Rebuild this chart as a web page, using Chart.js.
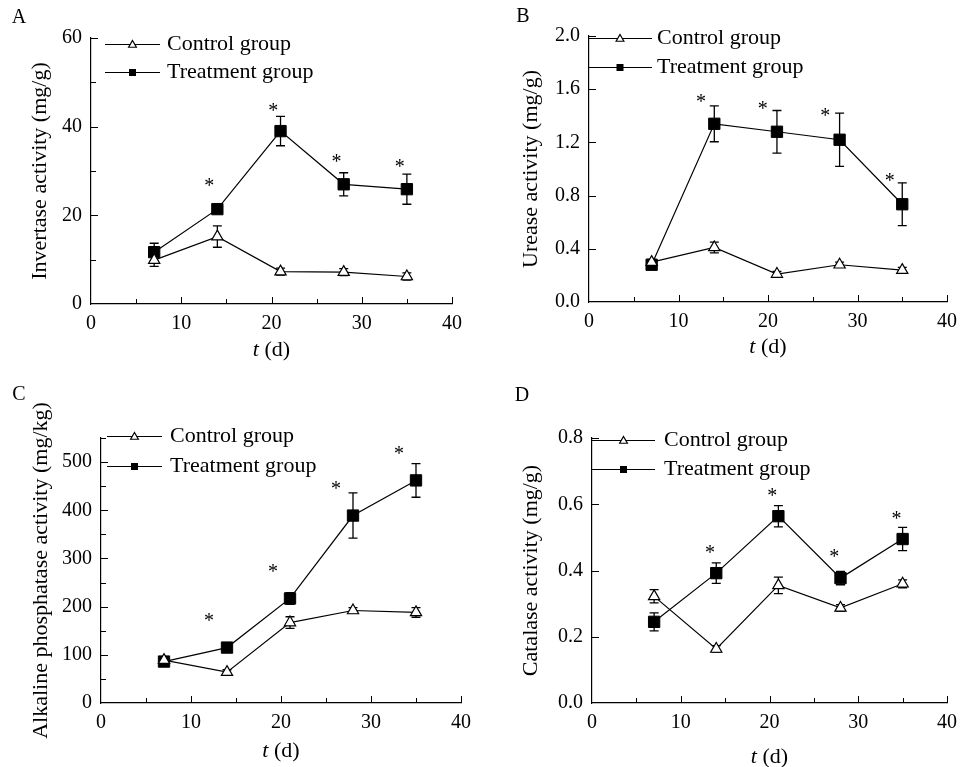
<!DOCTYPE html>
<html>
<head>
<meta charset="utf-8">
<script src="https://cdn.jsdelivr.net/npm/chart.js@4.4.0/dist/chart.umd.min.js"></script>
<style>
html, body { margin: 0; padding: 0; background: #fff; }
#wrap { position: relative; width: 965px; height: 767px; background: #fff; }
canvas { position: absolute; }
</style>
</head>
<body>
<div id="wrap">
  <canvas id="cA" width="480" height="380" style="left:0px;top:0px"></canvas>
  <canvas id="cB" width="485" height="380" style="left:480px;top:0px"></canvas>
  <canvas id="cC" width="480" height="387" style="left:0px;top:380px"></canvas>
  <canvas id="cD" width="485" height="387" style="left:480px;top:380px"></canvas>
</div>
<script>
// ---------- data ----------
const days = [7, 14, 21, 28, 35];
const seriesNames = ['Control group', 'Treatment group'];
const xTicksLabelled = [0, 10, 20, 30, 40];

// A: invertase (mg/g)
const invertaseControl = [9.9, 15.2, 7.3, 7.2, 6.2];
const invertaseControlErr = [1.4, 2.4, 0.8, 0.8, 0.8];
const invertaseTreatment = [11.7, 21.4, 39.0, 27.0, 25.9];
const invertaseTreatmentErr = [2.0, 0.8, 3.3, 2.6, 3.4];
const invertaseSigX = [13.1, 20.2, 27.2, 34.2];
const invertaseSigY = [27.2, 44.1, 32.6, 31.5];

// B: urease (mg/g)
const ureaseControl = [0.30, 0.41, 0.21, 0.28, 0.24];
const ureaseControlErr = [0.02, 0.04, 0.02, 0.02, 0.02];
const ureaseTreatment = [0.28, 1.34, 1.28, 1.22, 0.735];
const ureaseTreatmentErr = [0.02, 0.135, 0.16, 0.20, 0.16];
const ureaseSigX = [12.5, 19.4, 26.4, 33.6];
const ureaseSigY = [1.53, 1.47, 1.42, 0.93];

// C: alkaline phosphatase (mg/kg)
const alpControl = [89, 64, 167, 192, 188];
const alpControlErr = [5, 5, 12, 6, 10];
const alpTreatment = [86, 115, 217, 389, 462];
const alpTreatmentErr = [5, 6, 12, 47, 35];
const alpSigX = [12.0, 19.1, 26.1, 33.1];
const alpSigY = [177, 279, 450, 524];

// D: catalase (mg/g)
const catalaseControl = [0.322, 0.163, 0.355, 0.287, 0.36];
const catalaseControlErr = [0.02, 0.01, 0.025, 0.01, 0.012];
const catalaseTreatment = [0.245, 0.392, 0.564, 0.377, 0.495];
const catalaseTreatmentErr = [0.027, 0.031, 0.032, 0.02, 0.035];
const catalaseSigX = [13.3, 20.3, 27.3, 34.3];
const catalaseSigY = [0.461, 0.634, 0.451, 0.566];

// ---------- drawing helpers ----------
const FONT = '"Liberation Serif", "Times New Roman", serif';

function drawTri(ctx, x, y, r, lw) {
  ctx.beginPath();
  for (let k = 0; k < 3; k++) {
    const a = k * 2 * Math.PI / 3;
    const px = x + Math.sin(a) * r, py = y - Math.cos(a) * r;
    if (k === 0) ctx.moveTo(px, py); else ctx.lineTo(px, py);
  }
  ctx.closePath();
  ctx.fillStyle = '#fff'; ctx.fill();
  ctx.lineWidth = lw; ctx.strokeStyle = '#000'; ctx.stroke();
}

const panelPlugin = {
  id: 'panel',
  beforeDatasetsDraw(chart) {
    const ctx = chart.ctx;
    const ys = chart.scales.y;
    ctx.save();
    ctx.strokeStyle = '#000';
    ctx.lineWidth = 1.3;
    chart.data.datasets.forEach((ds, i) => {
      if (!ds.errors) return;
      const meta = chart.getDatasetMeta(i);
      meta.data.forEach((pt, j) => {
        const v = ds.data[j].y, e = ds.errors[j];
        const yt = ys.getPixelForValue(v + e), yb = ys.getPixelForValue(v - e);
        const x = pt.x;
        ctx.beginPath();
        ctx.moveTo(x, yt); ctx.lineTo(x, yb);
        ctx.moveTo(x - 4.5, yt); ctx.lineTo(x + 4.5, yt);
        ctx.moveTo(x - 4.5, yb); ctx.lineTo(x + 4.5, yb);
        ctx.stroke();
      });
    });
    ctx.restore();
  },
  afterDraw(chart, args, o) {
    const ctx = chart.ctx;
    const xs = chart.scales.x, ys = chart.scales.y;
    const ca = chart.chartArea;
    ctx.save();
    // inward tick marks
    ctx.strokeStyle = '#000';
    ctx.lineWidth = 1;
    ctx.beginPath();
    xs.ticks.forEach(t => {
      if (t.value === xs.min) return;
      const px = Math.round(xs.getPixelForValue(t.value)) + 0.5;
      const len = t.label !== '' ? 7 : 5;
      ctx.moveTo(px, ca.bottom); ctx.lineTo(px, ca.bottom - len);
    });
    ys.ticks.forEach(t => {
      if (t.value === ys.min) return;
      const py = Math.round(ys.getPixelForValue(t.value)) + 0.5;
      const len = t.label !== '' ? 7 : 5;
      ctx.moveTo(ca.left, py); ctx.lineTo(ca.left + len, py);
    });
    ctx.stroke();

    // asterisks (significance marks)
    ctx.fillStyle = '#000';
    ctx.font = '20px ' + FONT;
    ctx.textAlign = 'center';
    ctx.textBaseline = 'alphabetic';
    o.sigX.forEach((sx, k) => {
      ctx.fillText('*', xs.getPixelForValue(sx), ys.getPixelForValue(o.sigY[k]) + 9);
    });

    // y title
    ctx.save();
    ctx.translate(o.yTitleX, (ca.top + ca.bottom) / 2);
    ctx.rotate(-Math.PI / 2);
    ctx.font = '22px ' + FONT;
    ctx.textAlign = 'center';
    ctx.textBaseline = 'middle';
    ctx.fillText(o.yTitle, 0, 0);
    ctx.restore();

    // x title: italic t + " (d)"
    ctx.textBaseline = 'middle';
    ctx.textAlign = 'left';
    ctx.font = 'italic 22px ' + FONT;
    const w1 = ctx.measureText('t').width;
    ctx.font = '22px ' + FONT;
    const w2 = ctx.measureText(' (d)').width;
    const cx = (ca.left + ca.right) / 2 - (w1 + w2) / 2;
    ctx.font = 'italic 22px ' + FONT;
    ctx.fillText('t', cx, o.xTitleY);
    ctx.font = '22px ' + FONT;
    ctx.fillText(' (d)', cx + w1, o.xTitleY);

    // legend
    const lg = o.legend;
    chart.data.datasets.forEach((ds, i) => {
      const y = lg.y[i];
      ctx.beginPath();
      ctx.lineWidth = 1.2;
      ctx.strokeStyle = '#000';
      ctx.moveTo(lg.x1, y + 0.5); ctx.lineTo(lg.x2, y + 0.5);
      ctx.stroke();
      const mx = (lg.x1 + lg.x2) / 2;
      if (ds.pointStyle === 'triangle') {
        drawTri(ctx, mx, y + 1, 4.5, 1.2);
      } else {
        ctx.fillStyle = '#000';
        ctx.fillRect(mx - 3.5, y - 3, 7, 7);
      }
      ctx.fillStyle = '#000';
      ctx.font = '22px ' + FONT;
      ctx.textAlign = 'left';
      ctx.textBaseline = 'middle';
      ctx.fillText(ds.label, lg.textX, y);
    });

    // panel letter
    ctx.font = '20px ' + FONT;
    ctx.textAlign = 'center';
    ctx.textBaseline = 'middle';
    ctx.fillText(o.letter, o.letterX, o.letterY);
    ctx.restore();
  }
};

function makePanel(id, p) {
  const cv = document.getElementById(id);
  const W = cv.width, H = cv.height;
  const tickFont = { family: FONT, size: 20 };
  return new Chart(cv, {
    type: 'line',
    data: {
      datasets: [
        {
          label: seriesNames[0],
          data: days.map((d, i) => ({ x: d, y: p.ctrl[i] })),
          errors: p.ctrlErr,
          borderColor: '#000', borderWidth: 1.2, tension: 0, fill: false,
          pointStyle: 'triangle', pointRadius: 6.5, pointHoverRadius: 6.5,
          pointBackgroundColor: '#fff', pointBorderColor: '#000', pointBorderWidth: 1.2
        },
        {
          label: seriesNames[1],
          data: days.map((d, i) => ({ x: d, y: p.treat[i] })),
          errors: p.treatErr,
          borderColor: '#000', borderWidth: 1.2, tension: 0, fill: false,
          pointStyle: 'rect', pointRadius: 8, pointHoverRadius: 8,
          pointBackgroundColor: '#000', pointBorderColor: '#000', pointBorderWidth: 1
        }
      ]
    },
    options: {
      responsive: false,
      animation: false,
      devicePixelRatio: 1,
      events: [],
      layout: { padding: { left: 0, top: p.area.top, right: W - p.area.right, bottom: 0 } },
      plugins: {
        legend: { display: false },
        tooltip: { enabled: false },
        panel: p.panel
      },
      scales: {
        x: {
          type: 'linear', min: 0, max: 40,
          afterFit(s) { s.height = H - p.area.bottom; },
          grid: { display: false, drawTicks: false },
          border: { display: true, color: '#000', width: 1.2 },
          ticks: {
            stepSize: 5, autoSkip: false, maxRotation: 0, padding: 8,
            color: '#000', font: tickFont,
            callback: v => xTicksLabelled.includes(v) ? String(v) : ''
          }
        },
        y: {
          type: 'linear', min: p.yMin, max: p.yMax,
          afterFit(s) { s.width = p.area.left; },
          grid: { display: false, drawTicks: false },
          border: { display: true, color: '#000', width: 1.2 },
          ticks: {
            stepSize: p.yStep, autoSkip: false, padding: 9,
            color: '#000', font: tickFont,
            callback: p.yLabel
          }
        }
      }
    },
    plugins: [panelPlugin]
  });
}

const near = (v, m) => Math.abs(v / m - Math.round(v / m)) < 1e-6;

makePanel('cA', {
  ctrl: invertaseControl, ctrlErr: invertaseControlErr,
  treat: invertaseTreatment, treatErr: invertaseTreatmentErr,
  area: { left: 91, right: 452, top: 38, bottom: 304 },
  yMin: 0, yMax: 60, yStep: 10,
  yLabel: v => near(v, 20) ? String(Math.round(v)) : '',
  panel: {
    letter: 'A', letterX: 19, letterY: 18,
    yTitle: 'Invertase activity (mg/g)', yTitleX: 40, xTitleY: 350,
    sigX: invertaseSigX, sigY: invertaseSigY,
    legend: { x1: 105, x2: 160, textX: 167, y: [44, 72] }
  }
});

makePanel('cB', {
  ctrl: ureaseControl, ctrlErr: ureaseControlErr,
  treat: ureaseTreatment, treatErr: ureaseTreatmentErr,
  area: { left: 109, right: 471, top: 36, bottom: 302 },
  yMin: 0, yMax: 2.0, yStep: 0.4,
  yLabel: v => v.toFixed(1),
  panel: {
    letter: 'B', letterX: 43, letterY: 17,
    yTitle: 'Urease activity (mg/g)', yTitleX: 51, xTitleY: 347,
    sigX: ureaseSigX, sigY: ureaseSigY,
    legend: { x1: 108, x2: 172, textX: 177, y: [38, 67] }
  }
});

makePanel('cC', {
  ctrl: alpControl, ctrlErr: alpControlErr,
  treat: alpTreatment, treatErr: alpTreatmentErr,
  area: { left: 101, right: 461, top: 58, bottom: 323 },
  yMin: 0, yMax: 550, yStep: 50,
  yLabel: v => near(v, 100) ? String(Math.round(v)) : '',
  panel: {
    letter: 'C', letterX: 19, letterY: 15,
    yTitle: 'Alkaline phosphatase activity (mg/kg)', yTitleX: 41, xTitleY: 371,
    sigX: alpSigX, sigY: alpSigY,
    legend: { x1: 107, x2: 162, textX: 170, y: [56, 86] }
  }
});

makePanel('cD', {
  ctrl: catalaseControl, ctrlErr: catalaseControlErr,
  treat: catalaseTreatment, treatErr: catalaseTreatmentErr,
  area: { left: 112, right: 473, top: 58, bottom: 323 },
  yMin: 0, yMax: 0.8, yStep: 0.2,
  yLabel: v => v.toFixed(1),
  panel: {
    letter: 'D', letterX: 42, letterY: 16,
    yTitle: 'Catalase activity (mg/g)', yTitleX: 51, xTitleY: 377,
    sigX: catalaseSigX, sigY: catalaseSigY,
    legend: { x1: 112, x2: 175, textX: 184, y: [60, 89] }
  }
});
</script>
</body>
</html>
